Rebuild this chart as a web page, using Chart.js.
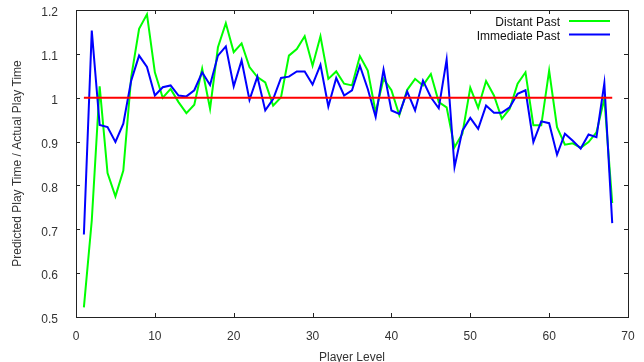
<!DOCTYPE html>
<html>
<head>
<meta charset="utf-8">
<script src="https://cdn.jsdelivr.net/npm/chart.js@4/dist/chart.umd.min.js"></script>
<style>
  html, body { margin: 0; padding: 0; background: #ffffff; }
  #wrap { width: 644px; height: 362px; position: relative; }
</style>
</head>
<body>
<div id="wrap"><canvas id="c" width="644" height="362"></canvas></div>
<script>
// ---- data ----
const levels = [1,2,3,4,5,6,7,8,9,10,11,12,13,14,15,16,17,18,19,20,21,22,23,24,25,26,27,28,29,30,31,32,33,34,35,36,37,38,39,40,41,42,43,44,45,46,47,48,49,50,51,52,53,54,55,56,57,58,59,60,61,62,63,64,65,66,67,68];
const distantPast = [0.522,0.72,1.026,0.828,0.775,0.834,1.047,1.157,1.19,1.058,1.0,1.02,0.99,0.965,0.984,1.066,0.975,1.115,1.17,1.104,1.124,1.07,1.047,1.035,0.982,1.001,1.096,1.111,1.14,1.073,1.14,1.043,1.06,1.032,1.028,1.095,1.062,0.967,1.043,1.017,0.96,1.018,1.043,1.028,1.054,0.99,0.978,0.887,0.918,1.023,0.977,1.038,1.005,0.952,0.975,1.032,1.058,0.937,0.937,1.062,0.933,0.893,0.896,0.886,0.899,0.921,0.998,0.76];
const immediatePast = [0.688,1.153,0.938,0.933,0.899,0.941,1.039,1.096,1.07,1.005,1.024,1.028,1.005,1.003,1.017,1.058,1.029,1.096,1.117,1.026,1.085,0.995,1.048,0.971,0.997,1.045,1.048,1.06,1.06,1.03,1.075,0.98,1.045,1.005,1.017,1.073,1.02,0.956,1.064,0.971,0.963,1.014,0.971,1.039,1.001,0.976,1.087,0.842,0.925,0.954,0.929,0.982,0.966,0.966,0.978,1.009,1.017,0.899,0.946,0.942,0.87,0.918,0.902,0.884,0.916,0.91,1.033,0.714];
const baselineValue = 1;
const seriesNames = ["Distant Past", "Immediate Past"];
const xTitle = "Player Level";
const yTitle = "Predicted Play Time / Actual Play Time";
const xRange = [0, 70, 10];
const yRange = [0.5, 1.2, 0.1];

const toPoints = (vals) => levels.map((x, i) => ({x: x, y: vals[i]}));
const baseline = levels.map(x => ({x: x, y: baselineValue}));

Chart.defaults.font.family = "'Liberation Sans', Arial, sans-serif";
Chart.defaults.font.size = 12;
Chart.defaults.color = '#333333';

// frame with inward tick marks + right-aligned legend inside the plot
const framePlugin = {
  id: 'frame',
  afterDatasetsDraw(chart) {
    const ctx = chart.ctx;
    const a = chart.chartArea;
    const xs = chart.scales.x, ys = chart.scales.y;
    ctx.save();
    ctx.strokeStyle = '#222222';
    ctx.lineWidth = 1;
    ctx.beginPath();
    const tl = 4;
    xs.ticks.forEach(t => {
      const px = Math.round(xs.getPixelForValue(t.value)) + 0.5;
      ctx.moveTo(px, a.bottom); ctx.lineTo(px, a.bottom - tl);
      ctx.moveTo(px, a.top); ctx.lineTo(px, a.top + tl);
    });
    ys.ticks.forEach(t => {
      const py = Math.round(ys.getPixelForValue(t.value)) + 0.5;
      ctx.moveTo(a.left, py); ctx.lineTo(a.left + tl, py);
      ctx.moveTo(a.right, py); ctx.lineTo(a.right - tl, py);
    });
    ctx.stroke();
    ctx.strokeRect(Math.round(a.left) + 0.5, Math.round(a.top) + 0.5,
                   Math.round(a.right - a.left), Math.round(a.bottom - a.top));
    // legend
    ctx.font = "12px 'Liberation Sans', Arial, sans-serif";
    ctx.fillStyle = '#111111';
    ctx.textAlign = 'right';
    ctx.textBaseline = 'middle';
    const lineEnd = a.right - 18, lineStart = lineEnd - 41;
    chart.data.datasets.forEach((ds, i) => {
      if (!ds.showInLegend) return;
      const y = a.top + 13 + ds.legendRow * 13.5;
      ctx.fillText(ds.label, lineStart - 9, y);
      ctx.strokeStyle = ds.borderColor;
      ctx.lineWidth = 2;
      ctx.beginPath();
      ctx.moveTo(lineStart, y - 2);
      ctx.lineTo(lineEnd, y - 2);
      ctx.stroke();
    });
    ctx.restore();
  }
};

new Chart(document.getElementById('c'), {
  type: 'line',
  data: {
    datasets: [
      { label: seriesNames[0], data: toPoints(distantPast), borderColor: '#00ff00', borderWidth: 2, order: 3, showInLegend: true, legendRow: 0 },
      { label: seriesNames[1], data: toPoints(immediatePast), borderColor: '#0000ff', borderWidth: 2, order: 2, showInLegend: true, legendRow: 1 },
      { label: 'baseline', data: baseline, borderColor: '#ff0000', borderWidth: 2, order: 1, showInLegend: false }
    ]
  },
  plugins: [framePlugin],
  options: {
    responsive: false,
    animation: false,
    elements: { point: { radius: 0 }, line: { tension: 0, fill: false } },
    layout: { padding: { top: 10, right: 16, left: 0, bottom: 0 } },
    plugins: { legend: { display: false }, tooltip: { enabled: false } },
    scales: {
      x: {
        type: 'linear', min: xRange[0], max: xRange[1],
        ticks: { stepSize: xRange[2], padding: 4, color: '#333333', maxRotation: 0 },
        grid: { display: false },
        border: { display: false },
        title: { display: true, text: xTitle, color: '#333333', padding: { top: 0, bottom: -3 }, font: { size: 12 } },
        afterFit: (s) => { s.height = 45; s.paddingLeft = 0; s.paddingRight = 0; }
      },
      y: {
        type: 'linear', min: yRange[0], max: yRange[1],
        ticks: { stepSize: yRange[2], padding: 10, color: '#333333', labelOffset: 3,
                 callback: (v) => String(Math.round(v * 10) / 10) },
        grid: { display: false },
        border: { display: false },
        title: { display: true, text: yTitle, color: '#333333', padding: { top: 10, bottom: 0 }, font: { size: 12 } },
        afterFit: (s) => { s.width = 76; s.paddingTop = 0; s.paddingBottom = 0; }
      }
    }
  }
});
</script>
</body>
</html>
